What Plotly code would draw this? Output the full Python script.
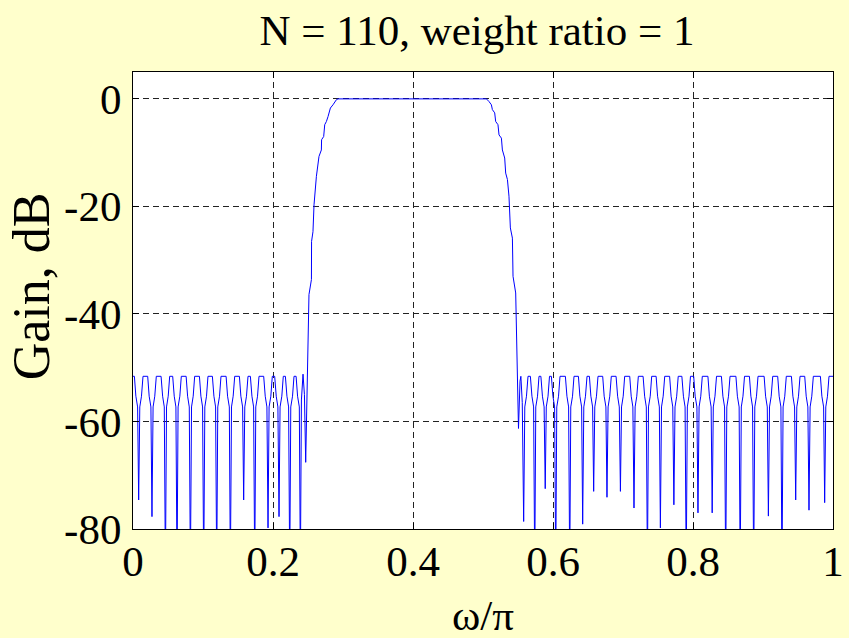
import plotly.graph_objects as go

# ---- data (omega/pi, gain in dB) ----
# lower stopband (0 ... ~0.247)
stop1_w = [0.0000, 0.0020, 0.0041, 0.0066, 0.0081,
           0.0097, 0.0121, 0.0143, 0.0210, 0.0231, 0.0256, 0.0271,
           0.0287, 0.0311, 0.0333, 0.0401, 0.0423, 0.0447, 0.0463,
           0.0479, 0.0503, 0.0524, 0.0567, 0.0589, 0.0613, 0.0629,
           0.0644, 0.0669, 0.0690, 0.0759, 0.0780, 0.0804, 0.0820,
           0.0836, 0.0860, 0.0881, 0.0949, 0.0970, 0.0994, 0.1010,
           0.1026, 0.1050, 0.1071, 0.1134, 0.1156, 0.1180, 0.1196,
           0.1211, 0.1236, 0.1257, 0.1330, 0.1351, 0.1376, 0.1391,
           0.1407, 0.1431, 0.1453, 0.1520, 0.1541, 0.1566, 0.1581,
           0.1597, 0.1621, 0.1643, 0.1677, 0.1699, 0.1723, 0.1739,
           0.1754, 0.1779, 0.1800, 0.1867, 0.1889, 0.1913, 0.1929,
           0.1944, 0.1969, 0.1990, 0.2024, 0.2046, 0.2070, 0.2086,
           0.2101, 0.2126, 0.2147, 0.2177, 0.2199, 0.2223, 0.2239,
           0.2254, 0.2279, 0.2300, 0.2330, 0.2351, 0.2376, 0.2391,
           0.2406, 0.2429, 0.2449, 0.2467]
stop1_db = [-51.6, -51.6, -55.3, -57.3, -74.6,
            -57.3, -55.3, -51.6, -51.6, -55.3, -57.3, -77.7,
            -57.3, -55.3, -51.6, -51.6, -55.3, -57.3, -88.0,
            -57.3, -55.3, -51.6, -51.6, -55.3, -57.3, -88.0,
            -57.3, -55.3, -51.6, -51.6, -55.3, -57.3, -88.0,
            -57.3, -55.3, -51.6, -51.6, -55.3, -57.3, -88.0,
            -57.3, -55.3, -51.6, -51.6, -55.3, -57.3, -88.0,
            -57.3, -55.3, -51.6, -51.6, -55.3, -57.3, -88.0,
            -57.3, -55.3, -51.6, -51.6, -55.3, -57.3, -74.6,
            -57.3, -55.3, -51.6, -51.6, -55.3, -57.3, -88.0,
            -57.3, -55.3, -51.6, -51.6, -55.3, -57.3, -79.8,
            -57.3, -55.3, -51.6, -51.6, -55.3, -57.3, -77.7,
            -57.3, -55.3, -51.6, -51.6, -55.3, -57.3, -88.0,
            -57.3, -55.3, -51.6, -51.6, -55.3, -57.3, -88.0,
            -56.0, -51.2, -55.0, -67.6]

# transition bands and passband (~0.25 ... ~0.55)
band_w = [0.2514, 0.2549, 0.2551, 0.2571, 0.2586, 0.2596, 0.2620, 0.2657,
          0.2691, 0.2694, 0.2724, 0.2739, 0.2763, 0.2786, 0.2810, 0.2820,
          0.2857, 0.2881, 0.2906, 0.2929, 0.3500, 0.4000, 0.4500, 0.5049,
          0.5086, 0.5120, 0.5134, 0.5167, 0.5181, 0.5214, 0.5229, 0.5263,
          0.5277, 0.5310, 0.5324, 0.5349, 0.5371, 0.5391, 0.5420, 0.5429,
          0.5467, 0.5507]
band_db = [-36.4, -33.6, -26.5, -24.7, -19.7, -17.8, -14.4, -10.7,
           -9.5, -7.6, -7.0, -4.8, -4.2, -3.3, -2.3, -1.7,
           -1.1, -0.5, -0.15, 0.0, 0.0, 0.0, 0.0, 0.0,
           -0.5, -1.1, -2.0, -2.6, -4.2, -4.8, -6.7, -7.3,
           -9.5, -11.0, -13.8, -15.0, -18.1, -24.0, -25.9, -33.0,
           -36.1, -61.3]

# upper stopband (~0.553 ... 1)
stop2_w = [0.5529, 0.5541, 0.5561, 0.5581,
           0.5597, 0.5621, 0.5643, 0.5677, 0.5699, 0.5723, 0.5739,
           0.5754, 0.5779, 0.5800, 0.5827, 0.5849, 0.5873, 0.5889,
           0.5904, 0.5929, 0.5950, 0.5977, 0.5999, 0.6023, 0.6039,
           0.6054, 0.6079, 0.6100, 0.6177, 0.6199, 0.6223, 0.6239,
           0.6254, 0.6279, 0.6300, 0.6363, 0.6384, 0.6409, 0.6424,
           0.6440, 0.6464, 0.6486, 0.6520, 0.6541, 0.6566, 0.6581,
           0.6597, 0.6621, 0.6643, 0.6710, 0.6731, 0.6756, 0.6771,
           0.6787, 0.6811, 0.6833, 0.6901, 0.6923, 0.6947, 0.6963,
           0.6979, 0.7003, 0.7024, 0.7096, 0.7117, 0.7141, 0.7157,
           0.7173, 0.7197, 0.7219, 0.7287, 0.7309, 0.7333, 0.7349,
           0.7364, 0.7389, 0.7410, 0.7473, 0.7494, 0.7519, 0.7534,
           0.7550, 0.7574, 0.7596, 0.7666, 0.7687, 0.7711, 0.7727,
           0.7743, 0.7767, 0.7789, 0.7841, 0.7863, 0.7887, 0.7903,
           0.7919, 0.7943, 0.7964, 0.8010, 0.8031, 0.8056, 0.8071,
           0.8087, 0.8111, 0.8133, 0.8213, 0.8234, 0.8259, 0.8274,
           0.8290, 0.8314, 0.8336, 0.8406, 0.8427, 0.8451, 0.8467,
           0.8483, 0.8507, 0.8529, 0.8613, 0.8634, 0.8659, 0.8674,
           0.8690, 0.8714, 0.8736, 0.8806, 0.8827, 0.8851, 0.8867,
           0.8883, 0.8907, 0.8929, 0.9016, 0.9037, 0.9061, 0.9077,
           0.9093, 0.9117, 0.9139, 0.9210, 0.9231, 0.9256, 0.9271,
           0.9287, 0.9311, 0.9333, 0.9406, 0.9427, 0.9451, 0.9467,
           0.9483, 0.9507, 0.9529, 0.9596, 0.9617, 0.9641, 0.9657,
           0.9673, 0.9697, 0.9719, 0.9820, 0.9841, 0.9866, 0.9881,
           0.9897, 0.9921, 0.9943, 1.0000]
stop2_db = [-52.5, -51.6, -56.5, -78.6,
            -57.3, -55.3, -51.6, -51.6, -55.3, -57.3, -88.0,
            -57.3, -55.3, -51.6, -51.6, -55.3, -57.3, -72.5,
            -57.3, -55.3, -51.6, -51.6, -55.3, -57.3, -88.0,
            -57.3, -55.3, -51.6, -51.6, -55.3, -57.3, -88.0,
            -57.3, -55.3, -51.6, -51.6, -55.3, -57.3, -79.1,
            -57.3, -55.3, -51.6, -51.6, -55.3, -57.3, -73.0,
            -57.3, -55.3, -51.6, -51.6, -55.3, -57.3, -74.1,
            -57.3, -55.3, -51.6, -51.6, -55.3, -57.3, -73.0,
            -57.3, -55.3, -51.6, -51.6, -55.3, -57.3, -76.1,
            -57.3, -55.3, -51.6, -51.6, -55.3, -57.3, -88.0,
            -57.3, -55.3, -51.6, -51.6, -55.3, -57.3, -79.8,
            -57.3, -55.3, -51.6, -51.6, -55.3, -57.3, -75.5,
            -57.3, -55.3, -51.6, -51.6, -55.3, -57.3, -88.0,
            -57.3, -55.3, -51.6, -51.6, -55.3, -57.3, -77.0,
            -57.3, -55.3, -51.6, -51.6, -55.3, -57.3, -77.0,
            -57.3, -55.3, -51.6, -51.6, -55.3, -57.3, -88.0,
            -57.3, -55.3, -51.6, -51.6, -55.3, -57.3, -88.0,
            -57.3, -55.3, -51.6, -51.6, -55.3, -57.3, -88.0,
            -57.3, -55.3, -51.6, -51.6, -55.3, -57.3, -77.6,
            -57.3, -55.3, -51.6, -51.6, -55.3, -57.3, -88.0,
            -57.3, -55.3, -51.6, -51.6, -55.3, -57.3, -74.6,
            -57.3, -55.3, -51.6, -51.6, -55.3, -57.3, -76.5,
            -57.3, -55.3, -51.6, -51.6, -55.3, -57.3, -75.1,
            -57.3, -55.3, -51.6, -51.6]

x_ticks = [0, 0.2, 0.4, 0.6, 0.8, 1]
x_labels = ["0", "0.2", "0.4", "0.6", "0.8", "1"]
y_ticks = [-80, -60, -40, -20, 0]
y_labels = ["-80", "-60", "-40", "-20", "0"]

title_text = "N = 110, weight ratio = 1"
x_title = "ω/π"
y_title = "Gain, dB"

omega = stop1_w + band_w + stop2_w
gain = stop1_db + band_db + stop2_db

FONT = "Liberation Serif"
fig = go.Figure()
fig.add_trace(go.Scatter(x=omega, y=gain, mode="lines",
                         line=dict(color="#0000FF", width=1),
                         hoverinfo="skip", showlegend=False))

axis_common = dict(
    showline=True, linecolor="black", linewidth=1, mirror="ticks",
    ticks="inside", ticklen=6, tickcolor="black", tickwidth=1,
    showgrid=True, gridcolor="#222222", gridwidth=1, griddash="6px,4px",
    zeroline=False,
    tickfont=dict(family=FONT, size=43, color="black"),
)

fig.update_layout(
    width=849, height=638,
    paper_bgcolor="#FFFFCC", plot_bgcolor="white",
    margin=dict(l=133, r=16, t=72, b=109, autoexpand=False),
    title=dict(text=title_text, x=(477 / 849), xanchor="center",
               y=1 - 30 / 638, yanchor="middle", yref="container",
               font=dict(family=FONT, size=43, color="black")),
    xaxis=dict(range=[0, 1], tickvals=x_ticks, ticktext=x_labels,
               ticklabelstandoff=-6, **axis_common),
    yaxis=dict(range=[-80, 5], tickvals=y_ticks, ticktext=y_labels,
               ticklabelstandoff=2, **axis_common),
    annotations=[
        dict(text=x_title, xref="paper", yref="paper", x=0.5, y=-0.19,
             xanchor="center", yanchor="middle", showarrow=False,
             font=dict(family=FONT, size=43, color="black")),
        dict(text=y_title, xref="paper", yref="paper", x=-0.145, y=0.53,
             xanchor="center", yanchor="middle", textangle=-90, showarrow=False,
             font=dict(family=FONT, size=52, color="black")),
    ],
)

fig.write_html("out.html", config={"displayModeBar": False},
               post_script="document.body.style.margin='0';")
